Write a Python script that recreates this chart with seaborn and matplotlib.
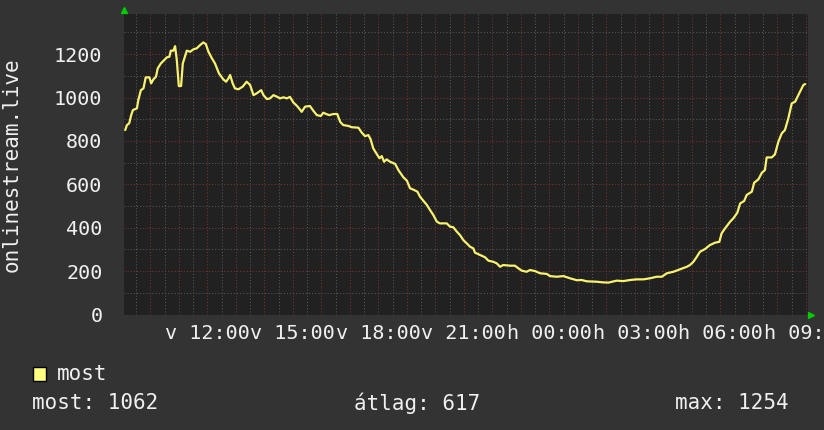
import matplotlib
matplotlib.use("Agg")
import matplotlib.pyplot as plt
from matplotlib.patches import Rectangle
import seaborn as sns
import pandas as pd

# hours since sunday 00:00 and listener counts
hours = [
    9.12, 9.18, 9.26, 9.33, 9.39, 9.53, 9.58, 9.67, 9.76, 9.84,
    9.97, 10.03, 10.11, 10.20, 10.26, 10.37, 10.46, 10.58, 10.67, 10.72,
    10.81, 10.87, 10.93, 11.00, 11.08, 11.14, 11.22, 11.28, 11.40, 11.51,
    11.63, 11.75, 11.86, 11.95, 12.04, 12.16, 12.27, 12.41, 12.56, 12.66,
    12.74, 12.80, 12.89, 12.97, 13.09, 13.24, 13.38, 13.50, 13.62, 13.73,
    13.89, 13.97, 14.09, 14.20, 14.32, 14.44, 14.55, 14.67, 14.79, 14.90,
    15.02, 15.14, 15.25, 15.31, 15.43, 15.60, 15.72, 15.84, 15.98, 16.07,
    16.17, 16.28, 16.42, 16.56, 16.66, 16.77, 16.95, 17.07, 17.30, 17.42,
    17.53, 17.65, 17.73, 17.82, 17.94, 18.04, 18.12, 18.20, 18.29, 18.41,
    18.59, 18.70, 18.88, 19.00, 19.11, 19.25, 19.37, 19.46, 19.58, 19.70,
    19.81, 19.93, 20.05, 20.16, 20.40, 20.51, 20.63, 20.75, 20.87, 20.98,
    21.10, 21.22, 21.33, 21.39, 21.57, 21.74, 21.86, 22.03, 22.15, 22.27,
    22.38, 22.62, 22.79, 22.91, 23.03, 23.20, 23.32, 23.50, 23.67, 23.91,
    24.02, 24.26, 24.49, 24.72, 24.96, 25.13, 25.31, 25.66, 25.89, 26.07,
    26.36, 26.59, 26.83, 27.06, 27.30, 27.53, 27.76, 27.94, 28.12, 28.35,
    28.58, 28.82, 28.93, 29.05, 29.17, 29.28, 29.46, 29.63, 29.81, 29.96,
    30.04, 30.16, 30.34, 30.45, 30.59, 30.69, 30.83, 30.92, 31.10, 31.18,
    31.33, 31.45, 31.56, 31.62, 31.80, 31.91, 32.03, 32.15, 32.26, 32.38,
    32.50, 32.62, 32.79, 32.91, 32.97,
]
listeners = [
    850, 873, 881, 919, 942, 950, 988, 1034, 1042, 1093,
    1093, 1065, 1084, 1096, 1134, 1157, 1169, 1185, 1188, 1216,
    1216, 1237, 1173, 1053, 1053, 1157, 1191, 1216, 1211, 1222,
    1227, 1242, 1254, 1246, 1211, 1181, 1157, 1111, 1084, 1073,
    1088, 1104, 1065, 1042, 1038, 1050, 1073, 1058, 1011, 1019,
    1034, 1011, 993, 996, 1011, 1004, 996, 1001, 996, 1003,
    977, 962, 945, 934, 958, 961, 939, 919, 915, 930,
    924, 919, 924, 924, 888, 873, 869, 863, 861, 838,
    822, 827, 807, 766, 740, 720, 730, 704, 715, 704,
    694, 666, 632, 617, 582, 574, 566, 543, 524, 505,
    482, 458, 428, 420, 420, 405, 402, 382, 365, 343,
    328, 312, 305, 285, 274, 264, 248, 243, 236, 220,
    228, 225, 225, 213, 202, 197, 205, 200, 190, 187,
    177, 174, 177, 167, 158, 159, 153, 151, 148, 147,
    156, 154, 159, 162, 162, 167, 174, 174, 190, 197,
    208, 220, 228, 243, 266, 289, 302, 320, 331, 335,
    374, 397, 428, 443, 469, 512, 523, 551, 566, 607,
    623, 653, 666, 724, 724, 738, 796, 835, 850, 904,
    973, 981, 1027, 1058, 1062,
]

label_hours = [12, 15, 18, 21, 24, 27, 30, 33]
label_text = ["v 12:00", "v 15:00", "v 18:00", "v 21:00",
              "h 00:00", "h 03:00", "h 06:00", "h 09:00"]
y_ticks = [0, 200, 400, 600, 800, 1000, 1200]

series_name = "most"
y_title = "onlinestream.live"
stat_text = ["most: 1062", "átlag: 617", "max: 1254"]

bg = "#333333"
canvas = "#212121"
line_col = "#f8f270"
txt = "#f0f0f0"
minor_col = "#585858"
major_col = "#7a3434"

sns.set_theme(style="dark")
plt.rcParams["font.family"] = ["DejaVu Sans Mono", "DejaVu Sans"]

fig = plt.figure(figsize=(8.24, 4.30), dpi=100, facecolor=bg)
W, H = 824, 430
ax = fig.add_axes([124 / W, (H - 314.5) / H, 684 / W, 300.5 / H])
ax.set_facecolor(canvas)

df = pd.DataFrame({"hour": hours, "value": listeners})
sns.lineplot(data=df, x="hour", y="value", ax=ax, color=line_col,
             linewidth=1.6, estimator=None, sort=False, zorder=5)

ax.set_xlim(9.078, 33.07)
ax.set_ylim(0, 1385)

# grid: half hour minor (grey), hourly major (red), 100 minor / 200 major in y
ax.set_xticks([h for h in range(10, 34)])
ax.set_xticklabels([label_text[label_hours.index(h)] if h in label_hours else ""
                    for h in range(10, 34)])
ax.set_xticks([h + 0.5 for h in range(9, 33)], minor=True)
ax.set_yticks(y_ticks)
ax.set_yticklabels([str(v) for v in y_ticks])
ax.set_yticks([v + 100 for v in y_ticks], minor=True)

ax.grid(which="major", color=major_col, linestyle=(0, (1, 2)), linewidth=0.75)
ax.grid(which="minor", color=minor_col, linestyle=(0, (1, 2)), linewidth=0.75)
ax.set_axisbelow(True)

ax.tick_params(axis="both", which="major", colors=major_col, length=2.5,
               width=0.75, labelcolor=txt, labelsize=14.5)
ax.tick_params(axis="both", which="minor", colors=minor_col, length=2.5, width=0.75)
ax.tick_params(axis="x", pad=4)
ax.tick_params(axis="y", pad=13)
for s in ax.spines.values():
    s.set_visible(False)
ax.set_xlabel("")
ax.set_ylabel("")

fig.text(12 / W, 1 - 165 / H, y_title, rotation=90, color=txt, fontsize=15,
         ha="center", va="center")

# green axis arrows
ax.plot([0], [1 + 4 / 300], marker="^", color="#00cc00", markersize=4,
        transform=ax.transAxes, clip_on=False)
ax.plot([1 + 3 / 684], [0], marker=">", color="#00cc00", markersize=4,
        transform=ax.transAxes, clip_on=False)

# legend and summary line
fig.add_artist(Rectangle((33 / W, 1 - 381 / H), 13 / W, 14 / H,
                         transform=fig.transFigure, facecolor="#ffff80",
                         edgecolor="black", linewidth=1))
fig.text(57 / W, 1 - 374 / H, series_name, color=txt, fontsize=15,
         ha="left", va="center")
for xpos, s in zip([32, 354, 675], stat_text):
    fig.text(xpos / W, 1 - 403 / H, s, color=txt, fontsize=15,
             ha="left", va="center")

fig.savefig("out.png", dpi=100, facecolor=bg)
plt.close(fig)
